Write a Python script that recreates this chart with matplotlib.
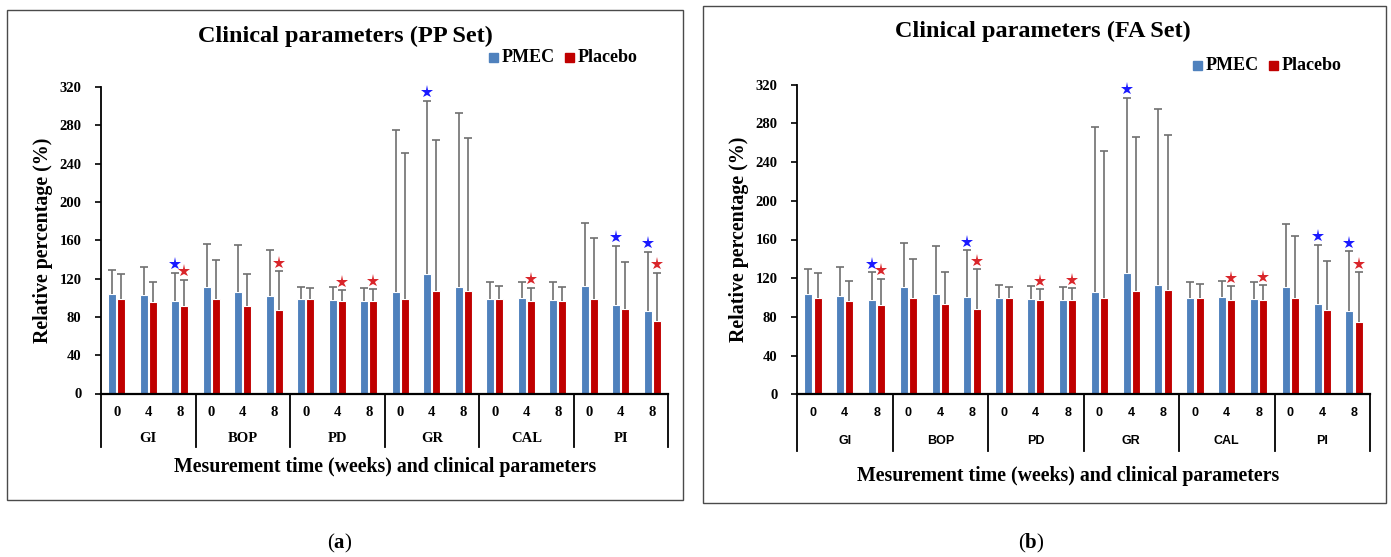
import matplotlib
matplotlib.use("Agg")
import matplotlib.pyplot as plt
import matplotlib.transforms as mtransforms
from matplotlib.patches import Rectangle
import numpy as np

# ---------------- data ----------------
groups = ["GI", "BOP", "PD", "GR", "CAL", "PI"]
weeks = ["0", "4", "8"]
series_names = ["PMEC", "Placebo"]

pp_pmec = [103.6, 102.6, 96.7, 111.3, 105.7, 101.6, 98.4, 97.4, 96.7,
           105.7, 124.8, 111.3, 98.4, 99.5, 97.4, 112.0, 92.5, 85.9]
pp_pmec_sd = [25.8, 29.9, 29.6, 45.3, 49.4, 47.7, 13.3, 13.6, 13.2,
              169.5, 180.7, 181.3, 17.5, 17.4, 18.5, 65.5, 61.6, 62.3]
pp_plac = [98.4, 95.6, 91.8, 98.4, 91.8, 87.0, 98.4, 96.7, 96.7,
           98.4, 106.8, 107.5, 98.4, 96.7, 96.7, 98.4, 87.7, 75.2]
pp_plac_sd = [26.4, 21.3, 27.2, 41.1, 33.0, 40.7, 11.5, 11.1, 12.2,
              152.4, 158.3, 159.7, 14.3, 13.9, 15.0, 64.4, 49.7, 51.1]
pp_pmec_sig = [0, 0, 1, 0, 0, 0, 0, 0, 0, 0, 1, 0, 0, 0, 0, 0, 1, 1]
pp_plac_sig = [0, 0, 1, 0, 0, 1, 0, 1, 1, 0, 0, 0, 0, 1, 0, 0, 0, 1]

fa_pmec = [103.7, 102.0, 97.2, 110.9, 103.7, 100.3, 99.2, 98.2, 97.2,
           105.8, 125.8, 112.7, 99.2, 100.3, 98.5, 110.9, 93.4, 86.5]
fa_pmec_sd = [25.5, 30.0, 28.9, 45.5, 49.3, 48.5, 13.5, 13.4, 13.4,
              170.2, 180.5, 181.9, 17.3, 17.2, 18.0, 65.2, 61.3, 61.3]
fa_plac = [99.2, 96.5, 92.3, 99.2, 93.4, 88.2, 99.2, 97.2, 97.2,
           99.2, 107.1, 107.8, 99.2, 97.5, 97.5, 99.2, 87.5, 74.4]
fa_plac_sd = [26.2, 21.0, 26.9, 40.7, 32.7, 41.0, 11.4, 11.3, 12.4,
              152.3, 159.2, 160.6, 14.5, 14.1, 15.2, 64.4, 50.7, 51.7]
fa_pmec_sig = [0, 0, 1, 0, 0, 1, 0, 0, 0, 0, 1, 0, 0, 0, 0, 0, 1, 1]
fa_plac_sig = [0, 0, 1, 0, 0, 1, 0, 1, 1, 0, 0, 0, 0, 1, 1, 0, 0, 1]

yticks = [0, 40, 80, 120, 160, 200, 240, 280, 320]

# ---------------- style ----------------
W, H = 1391, 557
SERIF = "Liberation Serif"
plt.rcParams["font.family"] = [SERIF, "DejaVu Serif"]
plt.rcParams["mathtext.fontset"] = "custom"
plt.rcParams["mathtext.rm"] = "Liberation Serif"
plt.rcParams["mathtext.bf"] = "Liberation Serif:bold"

C_PMEC = "#4f81bd"
C_PLAC = "#c00000"
C_ERR = "#707070"
C_STAR_B = "#1a1aff"
C_STAR_R = "#d9252a"

fig = plt.figure(figsize=(W / 100, H / 100), dpi=100)


def fx(px):
    return px / W


def fy(py):
    return 1 - py / H


def panel(box, axbox, title, title_xy, legend_xy, pmec, pmec_sd, plac, plac_sd,
          pmec_sig, plac_sig, cat_family, cat_size, cat_weight, tick_py, group_py,
          xlabel_py, sep_py, xlabel_x, ylabelpad):
    # outer box
    bx0, by0, bx1, by1 = box
    fig.add_artist(Rectangle((fx(bx0), fy(by1)), fx(bx1 - bx0), (by1 - by0) / H,
                             transform=fig.transFigure, fill=False,
                             edgecolor="#4a4a4a", lw=1.0))
    l, t, r, b = axbox
    ax = fig.add_axes([fx(l), fy(b), fx(r - l), (b - t) / H])
    n = len(pmec)
    x = np.arange(n)
    off, bw = 0.145, 0.25
    ax.bar(x - off, pmec, width=bw, color=C_PMEC, edgecolor="white", lw=0.8, zorder=2)
    ax.bar(x + off, plac, width=bw, color=C_PLAC, edgecolor="white", lw=0.8, zorder=2)
    for xs, m, s in ((x - off, pmec, pmec_sd), (x + off, plac, plac_sd)):
        m = np.asarray(m)
        s = np.asarray(s)
        ax.vlines(xs, m, m + s, color=C_ERR, lw=1.2, zorder=3)
        ax.plot(xs, m + s, ls="none", marker="_", ms=6, mew=1.2, color=C_ERR, zorder=3)
    # significance stars
    for xs, m, s, sig, c in ((x - off, pmec, pmec_sd, pmec_sig, C_STAR_B),
                             (x + off, plac, plac_sd, plac_sig, C_STAR_R)):
        for xi, mi, si, g in zip(xs, m, s, sig):
            if g:
                ax.plot(xi, mi + si + 9, marker="*", ms=9.5, color=c, mew=0,
                        clip_on=False, zorder=4)
    ax.set_xlim(-0.5, n - 0.5)
    ax.set_ylim(0, 320)
    ax.set_yticks(yticks)
    ax.set_yticklabels([str(v) for v in yticks], fontweight="bold", fontsize=10.5)
    ax.tick_params(axis="y", direction="out", length=4, width=1.2, pad=10)
    ax.set_xticks([])
    for sp in ("top", "right"):
        ax.spines[sp].set_visible(False)
    ax.spines["left"].set_linewidth(1.3)
    ax.spines["bottom"].set_linewidth(1.6)
    ax.set_ylabel("Relative percentage (%)", fontsize=14.4, fontweight="bold",
                  labelpad=ylabelpad)
    trans = mtransforms.blended_transform_factory(ax.transData, ax.transAxes)

    def ay(py):
        return (b - py) / (b - t)

    for k in range(len(groups) + 1):
        xs = k * 3 - 0.5
        ax.plot([xs, xs], [0, ay(sep_py)], color="black", lw=1.3,
                transform=trans, clip_on=False)
    for i in range(n):
        ax.text(i, ay(tick_py), weeks[i % 3], transform=trans, ha="center", va="center",
                fontsize=cat_size, fontweight=cat_weight, family=cat_family)
    for gi, g in enumerate(groups):
        ax.text(gi * 3 + 1, ay(group_py), g, transform=trans, ha="center", va="center",
                fontsize=cat_size, fontweight=cat_weight, family=cat_family)
    fig.text(fx(xlabel_x), fy(xlabel_py), "Mesurement time (weeks) and clinical parameters",
             ha="center", va="center", fontsize=14.3, fontweight="bold")
    fig.text(fx(title_xy[0]), fy(title_xy[1]), title, ha="center", va="center",
             fontsize=17.5, fontweight="bold")
    # legend
    lx, ly = legend_xy
    for name, c, dx in ((series_names[0], C_PMEC, 0), (series_names[1], C_PLAC, 76)):
        fig.add_artist(Rectangle((fx(lx + dx), fy(ly + 4.5)), fx(8.5), 8.5 / H,
                                 transform=fig.transFigure, color=c))
        fig.text(fx(lx + dx + 13), fy(ly), name, ha="left", va="center",
                 fontsize=13, fontweight="bold")
    return ax


panel((7, 10, 683, 500), (101, 87, 668, 393.5), "Clinical parameters (PP Set)", (345, 36),
      (489, 57), pp_pmec, pp_pmec_sd, pp_plac, pp_plac_sd, pp_pmec_sig, pp_plac_sig,
      [SERIF], 10.5, "bold", 412.5, 438.5, 467, 447, 385, 5)

panel((703, 6, 1386, 503), (797, 84.7, 1370, 394.3), "Clinical parameters (FA Set)",
      (1043, 31), (1193, 65), fa_pmec, fa_pmec_sd, fa_plac, fa_plac_sd, fa_pmec_sig,
      fa_plac_sig, ["Liberation Sans", "DejaVu Sans"], 9, "bold",
      413.5, 441.5, 476.5, 451, 1068, 5)

fig.text(fx(340), fy(543), r"$\mathrm{(}\mathbf{a}\mathrm{)}$", ha="center", va="center",
         fontsize=15)
fig.text(fx(1031), fy(543), r"$\mathrm{(}\mathbf{b}\mathrm{)}$", ha="center", va="center",
         fontsize=15)

fig.savefig("out.png", dpi=100)
